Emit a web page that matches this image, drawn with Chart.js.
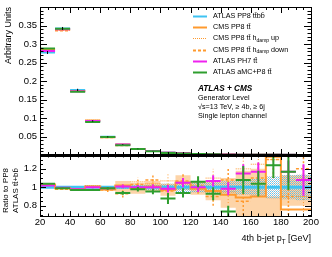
<!DOCTYPE html>
<html>
<head>
<meta charset="utf-8">
<script src="https://cdn.jsdelivr.net/npm/chart.js@4.4.0/dist/chart.umd.min.js"></script>
<style>
html, body { margin: 0; padding: 0; background: #fff; }
#wrap { position: relative; width: 332px; height: 257px; }
#top { position: absolute; left: 0; top: 0; }
#bot { position: absolute; left: 0; top: 155px; }
</style>
</head>
<body>
<div id="wrap">
  <canvas id="top" width="332" height="157"></canvas>
  <canvas id="bot" width="332" height="102"></canvas>
</div>
<script>
// bin edges of 4th b-jet pT [GeV]
const edges = [20, 30, 40, 50, 60, 70, 80, 90, 100, 110, 120, 130, 140, 150, 160, 170, 180, 190, 200];
const xTicks = [20, 40, 60, 80, 100, 120, 140, 160, 180, 200];
const yTopTicks = [0.05, 0.1, 0.15, 0.2, 0.25, 0.3, 0.35];
const yRatioTicks = [0.8, 1, 1.2];

// upper panel, normalised distributions
const pp8Top  = [0.277, 0.342, 0.176, 0.092, 0.049, 0.028, 0.0165, 0.0105, 0.0065, 0.0042, 0.0028, 0.0019, 0.0013, 0.0009, 0.0006, 0.0004, 0.0003, 0.0002];
const pp8TopErr = [0.004, 0.004, 0.003, 0.002, 0.0015, 0.001, 0.0008, 0.0006, 0.0005, 0.0004, 0.0003, 0.0003, 0.0002, 0.0002, 0.0001, 0.0001, 0.0001, 0.0001];
const cmsTop  = [0.285, 0.339, 0.173, 0.093, 0.048, 0.0285, 0.0165, 0.0105, 0.0062, 0.0044, 0.0028, 0.0018, 0.0012, 0.0008, 0.0005, 0.0005, 0.0002, 0.0002];
const upTop   = [0.284, 0.337, 0.173, 0.094, 0.048, 0.028, 0.0175, 0.011, 0.007, 0.0045, 0.0029, 0.0021, 0.0012, 0.0011, 0.0007, 0.0005, 0.0003, 0.0002];
const downTop = [0.285, 0.336, 0.172, 0.092, 0.047, 0.026, 0.017, 0.0113, 0.0062, 0.0045, 0.0029, 0.0017, 0.0014, 0.0008, 0.0007, 0.0005, 0.0003, 0.0002];
const ph7Top  = [0.281, 0.340, 0.1725, 0.092, 0.0485, 0.0283, 0.0165, 0.0105, 0.0064, 0.0044, 0.0028, 0.002, 0.0013, 0.001, 0.0007, 0.0006, 0.0004, 0.0002];
const amcTop  = [0.288, 0.341, 0.171, 0.089, 0.0485, 0.0263, 0.0162, 0.01, 0.0057, 0.004, 0.003, 0.0018, 0.001, 0.001, 0.0006, 0.0005, 0.0004, 0.0001];

// lower panel, ratio to ATLAS PP8 ttbb
const pp8Ratio = [1, 1, 1, 1, 1, 1, 1, 1, 1, 1, 1, 1, 1, 1, 1, 1, 1, 1];
const pp8Band  = [0.004, 0.004, 0.006, 0.008, 0.012, 0.018, 0.022, 0.03, 0.04, 0.05, 0.055, 0.06, 0.065, 0.08, 0.09, 0.12, 0.13, 0.14];
const cmsRatio = [1.03, 0.99, 0.98, 1.01, 0.98, 1.02, 0.99, 1.01, 0.975, 1.05, 0.985, 0.96, 0.92, 0.89, 0.90, 1.33, 0.76, 0.76];
const cmsLo    = [1.024, 0.984, 0.972, 0.998, 0.96, 0.95, 0.93, 0.95, 0.91, 0.97, 0.92, 0.86, 0.78, 0.6, 0.6, 0.6, 0.8, 0.8];
const cmsHi    = [1.036, 0.996, 0.988, 1.022, 1.0, 1.07, 1.05, 1.07, 1.04, 1.13, 1.06, 1.08, 1.1, 1.18, 1.2, 0.9, 1.13, 1.13];
const upRatio   = [1.03, 0.99, 0.98, 1.02, 0.99, 1.0, 1.06, 1.04, 1.07, 1.06, 1.05, 1.1, 0.95, 1.2, 1.25, 1.3, 1.0, 0.9];
const upErr     = [0.006, 0.006, 0.008, 0.012, 0.02, 0.04, 0.05, 0.06, 0.07, 0.08, 0.08, 0.1, 0.12, 0.15, 0.15, 0.2, 0.2, 0.2];
const downRatio = [1.03, 0.98, 0.975, 1.0, 0.97, 0.93, 1.03, 1.08, 0.96, 1.07, 1.02, 0.9, 1.08, 0.85, 1.1, 1.3, 0.9, 1.2];
const downErr   = [0.006, 0.006, 0.008, 0.012, 0.02, 0.04, 0.05, 0.06, 0.08, 0.08, 0.09, 0.1, 0.12, 0.15, 0.16, 0.2, 0.2, 0.2];
const ph7Ratio = [1.02, 0.995, 0.98, 1.0, 0.99, 1.01, 1.0, 1.0, 0.985, 1.05, 1.0, 1.07, 0.985, 1.15, 1.17, null, 1.17, 1.08];
const ph7Err   = [0.004, 0.004, 0.006, 0.01, 0.013, 0.02, 0.025, 0.03, 0.04, 0.05, 0.05, 0.06, 0.07, 0.1, 0.1, 0, 0.12, 0.17];
const amcRatio = [1.04, 0.99, 0.97, 0.97, 0.99, 0.94, 0.98, 0.955, 0.88, 0.94, 1.06, 0.93, 0.74, 1.08, 1.04, 1.24, 1.17, null];
const amcErr   = [0.005, 0.005, 0.007, 0.01, 0.015, 0.02, 0.025, 0.03, 0.06, 0.05, 0.06, 0.07, 0.06, 0.15, 0.14, 0.14, 0.2, 0];

const BLUE = '#3fc3f2', ORANGE = '#ff9a2e', MAGENTA = '#ee22ee', GREEN = '#2e9e2e', PEACH = '#fdd4a8';
const FONT = "'Liberation Sans', Arial, sans-serif";
Chart.defaults.font.family = FONT;

// helpers turning bin arrays into line points
const segs = (vals) => {
  const pts = [];
  vals.forEach((v, i) => {
    if (v === null) return;
    pts.push({x: edges[i], y: v}, {x: edges[i + 1], y: v}, {x: edges[i + 1], y: null});
  });
  return pts;
};
const steps = (vals) => {
  const pts = [];
  vals.forEach((v, i) => { pts.push({x: edges[i], y: v}, {x: edges[i + 1], y: v}); });
  return pts;
};
const errs = (vals, e) => {
  const pts = [];
  vals.forEach((v, i) => {
    if (v === null || !e[i]) return;
    const c = (edges[i] + edges[i + 1]) / 2;
    pts.push({x: c, y: v - e[i]}, {x: c, y: v + e[i]}, {x: c, y: null});
  });
  return pts;
};

const line = (data, color, width, order, dash) => ({
  data, borderColor: color, borderWidth: width, borderDash: dash || [],
  pointRadius: 0, tension: 0, spanGaps: false, fill: false, order
});

// hatched pattern for the PP8 band
const pat = document.createElement('canvas');
pat.width = 2; pat.height = 2;
const pc = pat.getContext('2d');
pc.fillStyle = 'rgba(70,185,235,0.85)'; pc.fillRect(0, 0, 1, 1);
pc.fillStyle = 'rgba(140,150,150,0.55)'; pc.fillRect(1, 1, 1, 1);
const hatch = pc.createPattern(pat, 'repeat');

function frame(opt) {
  return {
    id: 'frame',
    afterDatasetsDraw(chart) {
      const {ctx, chartArea: a, scales: {x, y}} = chart;
      ctx.save();
      ctx.strokeStyle = '#000';
      ctx.lineWidth = 1;
      ctx.beginPath();
      for (let v = 20; v <= 200; v += 5) {
        const px = Math.round(x.getPixelForValue(v)) + 0.5;
        const len = v % 20 === 0 ? opt.xMaj : opt.xMin;
        ctx.moveTo(px, a.bottom); ctx.lineTo(px, a.bottom - len);
        ctx.moveTo(px, a.top); ctx.lineTo(px, a.top + len);
      }
      for (let k = 0; ; k++) {
        const v = opt.yFrom + k * opt.yStep;
        if (v > y.max + 1e-9) break;
        if (v < y.min - 1e-9) continue;
        const py = Math.round(y.getPixelForValue(v)) + 0.5;
        const len = k % opt.yEvery === 0 ? opt.yMaj : opt.yMin;
        ctx.moveTo(a.left, py); ctx.lineTo(a.left + len, py);
        ctx.moveTo(a.right, py); ctx.lineTo(a.right - len, py);
      }
      ctx.stroke();
      ctx.strokeRect(a.left + 0.5, a.top + 0.5, a.right - a.left, a.bottom - a.top);
      ctx.lineWidth = 2;
      ctx.beginPath();
      const sy = opt.sharedBottom ? a.bottom : a.top + 1;
      ctx.moveTo(a.left, sy); ctx.lineTo(a.right + 1, sy);
      ctx.stroke();
      ctx.restore();
    }
  };
}

// text with subscript pieces, returns end x
function rich(ctx, parts, x, y, size) {
  parts.forEach(p => {
    if (p.sub) {
      ctx.font = (size * 0.7) + 'px ' + FONT;
      ctx.fillText(p.t, x, y + size * 0.3);
    } else {
      ctx.font = size + 'px ' + FONT;
      ctx.fillText(p.t, x, y);
    }
    x += ctx.measureText(p.t).width;
  });
  return x;
}

const legendItems = [
  {parts: [{t: 'ATLAS PP8 tt\u0304bb\u0304'}], color: BLUE, w: 2, dash: []},
  {parts: [{t: 'CMS PP8 tt\u0304'}], color: ORANGE, w: 2, dash: []},
  {parts: [{t: 'CMS PP8 tt\u0304 h'}, {t: 'damp', sub: true}, {t: ' up'}], color: ORANGE, w: 1, dash: [1, 1]},
  {parts: [{t: 'CMS PP8 tt\u0304 h'}, {t: 'damp', sub: true}, {t: ' down'}], color: ORANGE, w: 2, dash: [3, 2]},
  {parts: [{t: 'ATLAS PH7 tt\u0304'}], color: MAGENTA, w: 2, dash: []},
  {parts: [{t: 'ATLAS aMC+P8 tt\u0304'}], color: GREEN, w: 2, dash: []}
];

const topText = {
  id: 'topText',
  afterDraw(chart) {
    const ctx = chart.ctx;
    ctx.save();
    ctx.fillStyle = '#000';
    ctx.textBaseline = 'middle';
    legendItems.forEach((it, i) => {
      const y = 16 + i * 11.2;
      ctx.strokeStyle = it.color; ctx.lineWidth = it.w; ctx.setLineDash(it.dash);
      ctx.beginPath(); ctx.moveTo(193, Math.round(y) + 0.5); ctx.lineTo(207, Math.round(y) + 0.5); ctx.stroke();
      ctx.setLineDash([]);
      rich(ctx, it.parts, 213, y, 7.2);
    });
    ctx.font = 'italic bold 8.2px ' + FONT;
    ctx.fillText('ATLAS + CMS', 198, 89);
    ctx.font = '7.2px ' + FONT;
    ctx.fillText('Generator Level', 198, 98);
    ctx.fillText('\u221As=13 TeV, \u2265 4b, \u2265 6j', 198, 107);
    ctx.fillText('Single lepton channel', 198, 116);
    // y title
    ctx.translate(9, 7);
    ctx.rotate(-Math.PI / 2);
    ctx.textAlign = 'right';
    ctx.font = '9px ' + FONT;
    ctx.fillText('Arbitrary Units', 0, 0);
    ctx.restore();
  }
};

const botText = {
  id: 'botText',
  afterDraw(chart) {
    const ctx = chart.ctx;
    ctx.save();
    ctx.fillStyle = '#000';
    ctx.textBaseline = 'alphabetic';
    // x title, right aligned to the frame
    ctx.font = '9px ' + FONT;
    const parts = [{t: '4th b-jet p'}, {t: 'T', sub: true}, {t: ' [GeV]'}];
    let w = 0;
    parts.forEach(p => { ctx.font = (p.sub ? 6.3 : 9) + 'px ' + FONT; w += ctx.measureText(p.t).width; });
    rich(ctx, parts, 311 - w, 86, 9);
    // y titles
    ctx.textBaseline = 'middle';
    ctx.font = '8px ' + FONT;
    ctx.save();
    ctx.translate(6, 58); ctx.rotate(-Math.PI / 2);
    ctx.fillText('Ratio to PP8', 0, 0);
    ctx.restore();
    ctx.save();
    ctx.translate(16, 58); ctx.rotate(-Math.PI / 2);
    ctx.fillText('ATLAS tt\u0304+bb\u0304', 0, 0);
    ctx.restore();
    ctx.restore();
  }
};

function scales(yMin, yMax, yTicks, showX, xH) {
  return {
    x: {
      type: 'linear', min: 20, max: 200,
      afterBuildTicks: s => { s.ticks = xTicks.map(v => ({value: v})); },
      afterFit: s => { s.height = xH; s.paddingLeft = 0; s.paddingRight = 0; },
      grid: {display: false, drawTicks: false}, border: {display: false},
      ticks: {display: showX, padding: 1, color: '#000', font: {size: 9.5}, maxRotation: 0, autoSkip: false,
        callback: v => String(v)}
    },
    y: {
      min: yMin, max: yMax,
      afterBuildTicks: s => { s.ticks = yTicks.map(v => ({value: v})); },
      afterFit: s => { s.width = 40; s.paddingTop = 0; s.paddingBottom = 0; },
      grid: {display: false, drawTicks: false}, border: {display: false},
      ticks: {padding: 3, color: '#000', font: {size: 9.5}, callback: v => String(Number(v.toFixed(2)))}
    }
  };
}

const common = {
  responsive: false, animation: false, devicePixelRatio: 1,
  parsing: false, normalized: true,
  plugins: {legend: {display: false}, tooltip: {enabled: false}},
  elements: {line: {borderCapStyle: 'butt'}}
};

new Chart(document.getElementById('top'), {
  type: 'line',
  data: {
    datasets: [
      line(errs(pp8Top, pp8TopErr), '#000', 1, 0),
      line(segs(amcTop), GREEN, 2, 1),
      line(segs(ph7Top), MAGENTA, 2, 2),
      line(segs(downTop), ORANGE, 1.5, 3, [3, 2]),
      line(segs(upTop), ORANGE, 1, 4, [1, 1]),
      line(segs(cmsTop), ORANGE, 2, 5),
      line(segs(pp8Top), BLUE, 2, 6)
    ]
  },
  options: Object.assign({}, common, {
    layout: {padding: {top: 7, right: 21, left: 0, bottom: 0}},
    scales: scales(0, 0.4, yTopTicks, false, 2)
  }),
  plugins: [frame({xMaj: 6, xMin: 3, yFrom: 0, yStep: 0.01, yEvery: 5, yMaj: 7, yMin: 3.5, sharedBottom: true}), topText]
});

new Chart(document.getElementById('bot'), {
  type: 'line',
  data: {
    datasets: [
      line(errs(amcRatio, amcErr), GREEN, 2, 0),
      line(segs(amcRatio), GREEN, 2, 1),
      line(errs(ph7Ratio, ph7Err), MAGENTA, 2, 2),
      line(segs(ph7Ratio), MAGENTA, 2, 3),
      line(steps(cmsRatio), ORANGE, 2, 4),
      line(steps(pp8Ratio), BLUE, 3, 5),
      line(errs(downRatio, downErr), ORANGE, 1.5, 6, [2, 2]),
      line(segs(downRatio), ORANGE, 1.5, 7, [3, 2]),
      line(errs(upRatio, upErr), ORANGE, 1, 8, [1, 2]),
      line(segs(upRatio), ORANGE, 1, 9, [1, 1]),
      // PP8 stat band (hatched)
      Object.assign(line(steps(pp8Ratio.map((v, i) => v + pp8Band[i])), 'rgba(0,0,0,0)', 0, 10), {fill: '+1', backgroundColor: hatch}),
      line(steps(pp8Ratio.map((v, i) => v - pp8Band[i])), 'rgba(0,0,0,0)', 0, 11),
      // CMS band
      Object.assign(line(steps(cmsHi), 'rgba(0,0,0,0)', 0, 12), {fill: '+1', backgroundColor: PEACH}),
      line(steps(cmsLo), 'rgba(0,0,0,0)', 0, 13)
    ]
  },
  options: Object.assign({}, common, {
    layout: {padding: {top: 0, right: 21, left: 0, bottom: 0}},
    scales: scales(0.69, 1.35, yRatioTicks, true, 41)
  }),
  plugins: [frame({xMaj: 5, xMin: 2.5, yFrom: 0.6, yStep: 0.05, yEvery: 4, yMaj: 6, yMin: 3, sharedBottom: false}), botText]
});
</script>
</body>
</html>
